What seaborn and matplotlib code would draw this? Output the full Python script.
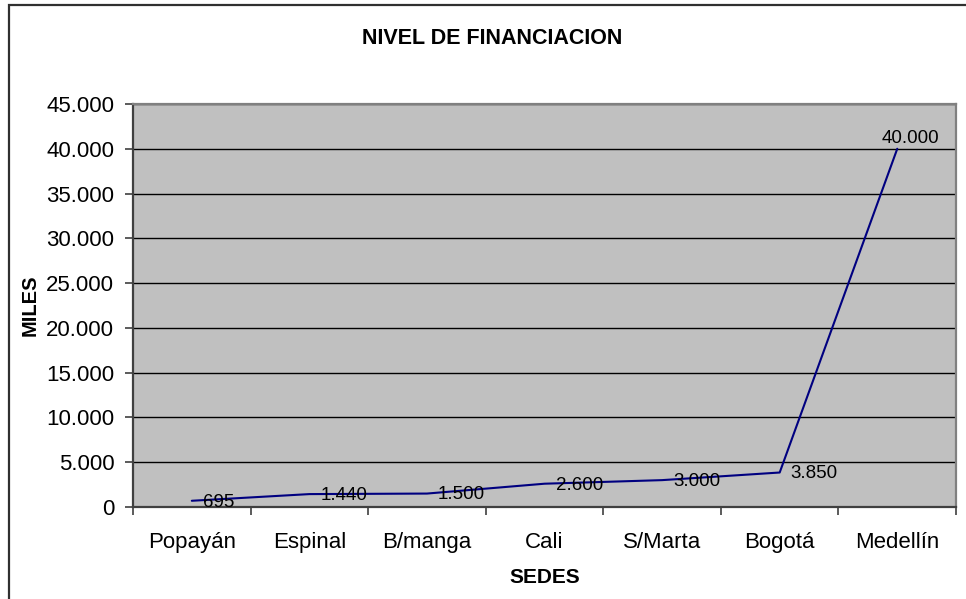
import matplotlib
matplotlib.use("Agg")
import matplotlib.pyplot as plt
import matplotlib.ticker as mticker
import pandas as pd
import seaborn as sns

# Data
sedes = ["Popayán", "Espinal", "B/manga", "Cali", "S/Marta", "Bogotá", "Medellín"]
miles = [695, 1440, 1500, 2600, 3000, 3850, 40000]
labels = ["695", "1.440", "1.500", "2.600", "3.000", "3.850", "40.000"]
y_ticks = [0, 5000, 10000, 15000, 20000, 25000, 30000, 35000, 40000, 45000]

df = pd.DataFrame({"sede": sedes, "miles": miles})
df["pos"] = range(len(df))

sns.set_style("white")
plt.rcParams["font.family"] = ["Liberation Sans", "DejaVu Sans"]
plt.rcParams["text.color"] = "black"
plt.rcParams["axes.labelcolor"] = "black"
plt.rcParams["xtick.color"] = "black"
plt.rcParams["ytick.color"] = "black"

fig = plt.figure(figsize=(9.66, 5.99), dpi=100)
ax = fig.add_axes([0.1377, 0.1536, 0.8520, 0.6728])
ax.set_facecolor("#c0c0c0")

sns.lineplot(data=df, x="pos", y="miles", color="#000080", linewidth=1.5, ax=ax)

# data labels
for i, (v, lab) in enumerate(zip(miles, labels)):
    if i == len(miles) - 1:
        ax.annotate(lab, (i, v), xytext=(-11, 1), textcoords="offset points",
                    ha="left", va="bottom", fontsize=13.5)
    else:
        ax.annotate(lab, (i, v), xytext=(8, -1), textcoords="offset points",
                    ha="left", va="center", fontsize=13.5)

ax.set_xlim(-0.5, len(sedes) - 0.5)
ax.set_ylim(0, 45000)
ax.set_yticks(y_ticks)
ax.yaxis.set_major_formatter(mticker.FuncFormatter(lambda v, p: f"{int(v):,}".replace(",", ".")))
ax.set_xticks(range(len(sedes)))
ax.set_xticklabels(sedes)
ax.set_xticks([i - 0.5 for i in range(len(sedes) + 1)], minor=True)
ax.tick_params(axis="x", which="major", length=0, labelsize=16, pad=18)
ax.tick_params(axis="x", which="minor", length=6, width=1.2, color="#404040", direction="out")
ax.tick_params(axis="y", length=6, width=1.2, color="#404040", labelsize=16, pad=7.5, direction="out")
ax.tick_params(bottom=True, left=True, which="both")

for v in y_ticks[1:]:
    ax.axhline(v, color="black", linewidth=1.0, zorder=0.5)

for side in ["left", "bottom"]:
    ax.spines[side].set_color("#404040")
    ax.spines[side].set_linewidth(1.6)
for side in ["top", "right"]:
    ax.spines[side].set_color("#808080")
    ax.spines[side].set_linewidth(1.6)

ax.set_xlabel("SEDES", fontsize=15, fontweight="bold", labelpad=10.5)
ax.set_ylabel("MILES", fontsize=14.5, fontweight="bold", labelpad=5)
fig.text(0.509, 0.936, "NIVEL DE FINANCIACION", ha="center", va="center",
         fontsize=15.5, fontweight="bold")

# outer chart frame (open to the right and bottom like the crop)
frame = plt.Rectangle((8.5 / 966, -0.1), 1.2, 1.1 - 5.5 / 599, transform=fig.transFigure,
                      fill=False, edgecolor="#303030", linewidth=1.6)
fig.add_artist(frame)

fig.savefig("out.png", dpi=100)
